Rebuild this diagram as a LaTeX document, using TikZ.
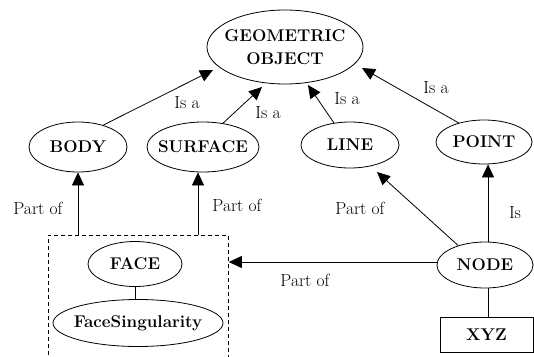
\documentclass[tikz,border=0pt]{standalone}
\usetikzlibrary{shapes.geometric,arrows.meta,calc}
\newcommand{\zb}[1]{\makebox[0pt]{#1}}
\begin{document}
\begin{tikzpicture}[x=1pt,y=-1pt,
  ell/.style={ellipse,draw,line width=0.8pt,inner sep=0pt,font=\fontsize{17}{23}\bfseries\selectfont},
  boxn/.style={rectangle,draw,line width=0.8pt,inner sep=0pt,font=\fontsize{17}{23}\bfseries\selectfont},
  lbl/.style={font=\fontsize{17.5}{21}\selectfont,inner sep=0pt},
  arr/.style={line width=0.8pt,-{Triangle[length=13pt,width=12pt]}},
  con/.style={line width=0.8pt}]
\clip (0,0) rectangle (534,356);
\fill[white] (0,0) rectangle (534,356);
% nodes
\node[ell,minimum width=156,minimum height=74,align=center] (geom) at (285,47) {\zb{GEOMETRIC}\\\zb{OBJECT}};
\node[ell,minimum width=98,minimum height=50] (body) at (78,147) {\zb{BODY}};
\node[ell,minimum width=112,minimum height=50] (surface) at (203,147) {\zb{SURFACE}};
\node[ell,minimum width=98,minimum height=46] (line) at (350,145) {\zb{LINE}};
\node[ell,minimum width=96,minimum height=44] (point) at (484,142) {\zb{POINT}};
\node[draw,dashed,dash pattern=on 4pt off 3pt,line width=0.8pt,minimum width=180,minimum height=140,anchor=north west,inner sep=0pt] (grp) at (48,235) {};
\node[ell,minimum width=94,minimum height=45] (face) at (135,264) {\zb{FACE}};
\node[ell,minimum width=170,minimum height=47] (facesing) at (138,323) {\zb{FaceSingularity}};
\node[ell,minimum width=96,minimum height=46] (node) at (485,265) {\zb{NODE}};
\node[boxn,minimum width=93,minimum height=35] (xyz) at (486.5,334.5) {XYZ};
% connectors
\draw[arr] (body.41) -- ($(geom.center)+(-72,23)$);
\draw[arr] (surface.50) -- ($(geom.center)+(-23,40)$);
\draw[arr] (line.126) -- ($(geom.center)+(23,38)$);
\draw[arr] (point.143) -- ($(geom.center)+(77,21)$);
\draw[arr] (grp.north -| body.south) -- (body.south);
\draw[arr] ($(surface.south |- grp.north)+(-5,0)$) -- ($(surface.south)+(-5,0)$);
\draw[arr] (node.144) -- ($(line.center)+(27,27)$);
\draw[arr] ([xshift=3pt]node.north) -- ([xshift=3pt]node.north |- point.south);
\draw[arr] ([yshift=3pt]node.west) -- ([yshift=3pt]node.west -| grp.east);
\draw[con] (face.south) -- (face.south |- facesing.north);
\draw[con] ([xshift=3pt]node.south) -- ([xshift=3pt]node.south |- xyz.north);
% labels
\node[lbl] (l1) at (187,103) {Is a};
\node[lbl] (l2) at (268,113) {Is a};
\node[lbl] (l3) at (347,99) {Is a};
\node[lbl] (l4) at (436,88) {Is a};
\node[lbl] (l5) at (38,208) {Part of};
\node[lbl] (l6) at (237,205) {Part of};
\node[lbl] (l7) at (360,208) {Part of};
\node[lbl] (l8) at (515,213) {Is};
\node[lbl] (l9) at (305,280) {Part of};
\end{tikzpicture}
\end{document}
